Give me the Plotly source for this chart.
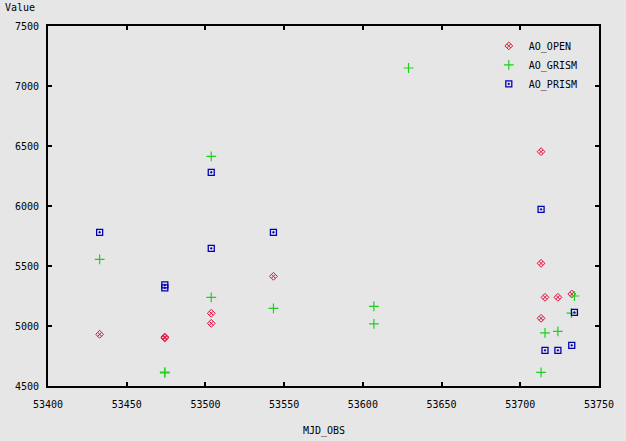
import plotly.graph_objects as go

# AO_OPEN (red)
open_x = [53432.8, 53474.2, 53474.2, 53503.7, 53503.7, 53543.2, 53713.2, 53713.2, 53715.7, 53723.9, 53732.7, 53713.2]
open_y = [4931, 4900, 4908, 5106, 5022, 5414, 6453, 5522, 5239, 5239, 5267, 5064]

# AO_GRISM (green)
grism_x = [53432.8, 53474.2, 53474.2, 53503.7, 53503.7, 53543.2, 53607.0, 53607.0, 53629.0, 53713.2, 53715.7, 53723.9, 53734.4, 53732.5]
grism_y = [5556, 4610, 4615, 6414, 5239, 5147, 5164, 5017, 7150, 4614, 4942, 4956, 5250, 5108]

# AO_PRISM (blue)
prism_x = [53432.8, 53474.2, 53474.2, 53503.7, 53503.7, 53543.2, 53713.2, 53715.7, 53723.9, 53732.7, 53734.4]
prism_y = [5781, 5342, 5318, 6281, 5647, 5781, 5972, 4797, 4797, 4839, 5114]

x_ticks = [53400, 53450, 53500, 53550, 53600, 53650, 53700, 53750]
y_ticks = [4500, 5000, 5500, 6000, 6500, 7000, 7500]

FONT = "DejaVu Sans Mono"

fig = go.Figure()
fig.add_trace(go.Scatter(x=open_x, y=open_y, mode="markers", name="AO_OPEN",
                         marker=dict(symbol="diamond-x-open", size=6, color="#e0103c",
                                     line=dict(width=1, color="#e0103c"))))
fig.add_trace(go.Scatter(x=grism_x, y=grism_y, mode="markers", name="AO_GRISM",
                         marker=dict(symbol="cross-thin-open", size=7, color="#1fd01f",
                                     line=dict(width=1.2, color="#1fd01f"))))
fig.add_trace(go.Scatter(x=prism_x, y=prism_y, mode="markers", name="AO_PRISM",
                         marker=dict(symbol="square-open-dot", size=6, color="#0000b4",
                                     line=dict(width=1.3, color="#0000b4"))))

axis_common = dict(showgrid=False, zeroline=False, showline=True, linecolor="black",
                   linewidth=2, mirror="allticks", ticks="inside", ticklen=4, tickwidth=2,
                   tickcolor="black", tickfont=dict(family=FONT, size=10, color="black"))

fig.update_layout(
    width=626, height=441,
    margin=dict(l=48, r=20, t=26, b=55),
    paper_bgcolor="#e6e6e6", plot_bgcolor="#e6e6e6",
    font=dict(family=FONT, size=10, color="black"),
    xaxis=dict(range=[53400, 53750], tickvals=x_ticks, ticktext=[str(v) for v in x_ticks],
               ticklabelstandoff=8, **axis_common),
    yaxis=dict(range=[4500, 7500], tickvals=y_ticks, ticktext=[str(v) for v in y_ticks],
               ticklabelstandoff=5, **axis_common),
    showlegend=True,
    legend=dict(x=0.80, y=0.985, xanchor="left", yanchor="top", bgcolor="rgba(0,0,0,0)",
                font=dict(family=FONT, size=10, color="black"), tracegroupgap=2,
                itemwidth=30),
    annotations=[
        dict(text="Value", xref="paper", yref="paper", x=-0.081, y=1.05, xanchor="left",
             yanchor="middle", showarrow=False, font=dict(family=FONT, size=10, color="black")),
        dict(text="MJD_OBS", xref="paper", yref="paper", x=0.5, y=-0.125, xanchor="center",
             yanchor="middle", showarrow=False, font=dict(family=FONT, size=10, color="black")),
    ],
)

fig.write_html("out.html", config={"displayModeBar": False},
               post_script="document.body.style.margin='0';document.body.style.background='#e6e6e6';")
